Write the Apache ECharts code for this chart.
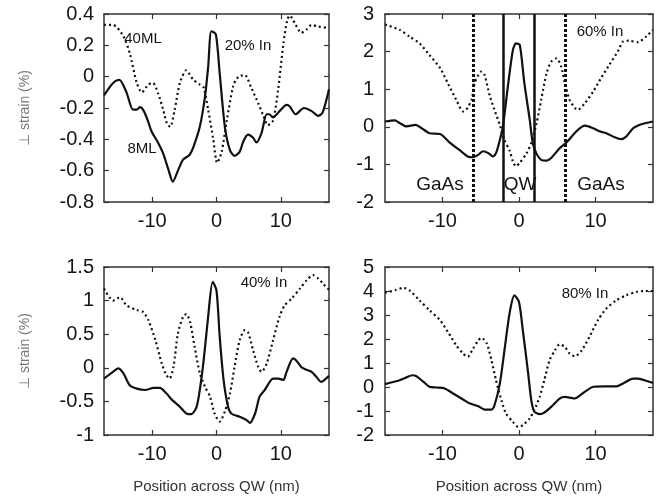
<!DOCTYPE html>
<html>
<head>
<meta charset="utf-8">
<script src="https://cdn.jsdelivr.net/npm/echarts@6/dist/echarts.min.js"></script>
<style>
html, body { margin: 0; padding: 0; background: #fff; }
#chart { width: 665px; height: 498px; }
</style>
</head>
<body>
<div id="chart"></div>
<script>
// perpendicular strain across the QW, [position nm, strain %]
const xTicks = [-10, 0, 10];
const xLimit = 17.5;

// 20% In : 8ML (solid) / 40ML (dotted)
const in20Solid = [[-17.5,-0.12],[-16.5,-0.06],[-15.8,-0.03],[-15.1,-0.02],[-14.0,-0.10],[-13.0,-0.21],[-12.4,-0.21],[-11.9,-0.195],[-11.3,-0.22],[-10.6,-0.29],[-10.1,-0.35],[-9.1,-0.42],[-8.3,-0.49],[-7.5,-0.59],[-6.8,-0.67],[-5.9,-0.59],[-5.2,-0.53],[-4.2,-0.50],[-3.6,-0.45],[-2.6,-0.32],[-1.8,-0.13],[-1.3,0.06],[-0.8,0.29],[-0.1,0.27],[0.5,0.02],[1.3,-0.32],[2.1,-0.47],[2.8,-0.505],[3.6,-0.48],[4.2,-0.41],[4.9,-0.37],[5.7,-0.39],[6.2,-0.42],[7.0,-0.36],[7.8,-0.24],[8.2,-0.24],[8.8,-0.26],[9.6,-0.23],[10.9,-0.18],[11.4,-0.19],[12.3,-0.24],[13.6,-0.20],[14.8,-0.22],[15.8,-0.25],[16.5,-0.23],[17.5,-0.08]];
const in20Dotted = [[-17.5,0.33],[-16.1,0.33],[-14.5,0.26],[-13.5,0.15],[-12.4,-0.04],[-11.6,-0.10],[-10.6,-0.05],[-9.9,-0.04],[-9.1,-0.105],[-8.3,-0.21],[-7.7,-0.30],[-7.2,-0.32],[-6.5,-0.21],[-5.7,-0.04],[-4.7,0.04],[-3.6,-0.02],[-2.6,-0.05],[-2.0,-0.07],[-1.3,-0.21],[-0.5,-0.40],[0.1,-0.55],[0.8,-0.48],[1.6,-0.28],[2.6,-0.06],[3.4,0.0],[4.4,0.01],[5.4,-0.07],[6.5,-0.17],[7.3,-0.25],[8.0,-0.31],[8.8,-0.28],[9.6,-0.08],[10.4,0.21],[11.0,0.36],[11.4,0.39],[12.2,0.34],[13.2,0.28],[14.0,0.30],[14.8,0.33],[15.8,0.32],[17.5,0.31]];

// 60% In
const in60Solid = [[-17.5,0.14],[-16.2,0.17],[-15.6,0.10],[-14.7,0.01],[-13.5,0.05],[-12.7,-0.04],[-11.7,-0.17],[-10.3,-0.19],[-9.0,-0.43],[-7.7,-0.63],[-6.7,-0.79],[-6.0,-0.81],[-5.3,-0.74],[-4.7,-0.65],[-4.0,-0.70],[-3.4,-0.79],[-3.0,-0.70],[-2.5,-0.35],[-2.1,0.01],[-1.4,1.16],[-0.8,2.04],[-0.4,2.22],[0.1,2.18],[0.7,1.16],[1.4,0.19],[1.8,-0.43],[2.3,-0.72],[2.9,-0.88],[3.6,-0.90],[4.2,-0.83],[5.3,-0.57],[6.2,-0.42],[7.5,-0.12],[8.6,0.03],[9.7,-0.04],[10.5,-0.12],[11.4,-0.17],[12.5,-0.28],[13.3,-0.33],[14.0,-0.26],[14.9,-0.04],[15.7,0.05],[16.6,0.10],[17.5,0.14]];
const in60Dotted = [[-17.5,2.72],[-15.6,2.58],[-14.3,2.40],[-13.0,2.22],[-11.7,1.91],[-10.3,1.56],[-9.3,1.16],[-8.2,0.72],[-7.3,0.41],[-6.9,0.45],[-6.2,0.72],[-5.8,1.16],[-5.3,1.38],[-4.9,1.47],[-4.5,1.38],[-3.8,0.81],[-3.2,0.45],[-2.5,0.05],[-1.9,-0.35],[-1.2,-0.65],[-0.8,-0.92],[-0.4,-1.05],[0.1,-0.96],[1.0,-0.70],[1.6,-0.43],[2.3,0.10],[2.9,0.72],[3.6,1.42],[4.2,1.73],[4.9,1.82],[5.5,1.60],[6.0,1.16],[6.6,0.72],[7.3,0.50],[7.7,0.45],[8.6,0.63],[9.7,0.94],[10.7,1.29],[11.8,1.65],[12.9,2.0],[13.6,2.27],[14.4,2.29],[15.5,2.25],[16.6,2.40],[17.5,2.58]];
// layer boundaries drawn in the 60% panel
const qwEdges = [-2, 2];
const gaasEdges = [-6, 6];

// 40% In
const in40Solid = [[-17.5,-0.16],[-16.1,-0.06],[-15.3,-0.01],[-14.5,-0.08],[-13.5,-0.26],[-12.4,-0.31],[-11.1,-0.33],[-9.8,-0.30],[-8.8,-0.30],[-7.8,-0.38],[-7.0,-0.47],[-5.7,-0.58],[-4.7,-0.68],[-3.9,-0.69],[-3.1,-0.58],[-2.6,-0.33],[-2.0,0.11],[-1.3,0.76],[-0.6,1.28],[0.0,1.15],[0.5,0.46],[1.1,-0.18],[1.8,-0.58],[2.3,-0.68],[3.6,-0.73],[4.7,-0.78],[5.2,-0.82],[6.0,-0.68],[6.7,-0.43],[7.5,-0.33],[8.8,-0.16],[9.6,-0.16],[10.4,-0.18],[10.9,-0.06],[11.9,0.14],[12.4,0.11],[13.2,0.01],[14.0,-0.03],[14.8,-0.06],[15.5,-0.13],[16.3,-0.21],[16.8,-0.18],[17.5,-0.12]];
const in40Dotted = [[-17.5,1.18],[-16.1,1.0],[-15.0,1.05],[-14.0,0.93],[-12.4,0.86],[-11.4,0.83],[-10.6,0.71],[-9.5,0.41],[-8.5,0.06],[-7.8,-0.11],[-7.3,-0.16],[-6.7,0.01],[-6.0,0.51],[-5.2,0.76],[-4.7,0.80],[-4.1,0.68],[-3.4,0.31],[-2.6,-0.08],[-1.8,-0.28],[-1.0,-0.43],[-0.3,-0.68],[0.5,-0.80],[1.3,-0.65],[2.1,-0.38],[2.8,0.01],[3.6,0.41],[4.4,0.56],[4.9,0.53],[5.7,0.26],[6.5,0.01],[7.0,-0.06],[7.8,0.06],[8.8,0.41],[9.8,0.76],[10.6,0.93],[11.7,1.03],[13.0,1.18],[14.0,1.30],[15.0,1.38],[15.8,1.33],[16.6,1.25],[17.5,1.16]];

// 80% In
const in80Solid = [[-17.5,0.12],[-15.6,0.28],[-14.7,0.40],[-13.9,0.49],[-13.4,0.45],[-12.5,0.22],[-11.7,0.01],[-10.8,-0.02],[-9.7,-0.06],[-8.6,-0.27],[-7.3,-0.52],[-6.4,-0.69],[-5.3,-0.80],[-4.5,-0.94],[-3.6,-0.94],[-3.2,-0.76],[-2.5,0.15],[-1.9,1.53],[-1.2,3.13],[-0.6,3.82],[0.0,3.54],[0.5,2.36],[1.2,0.56],[1.6,-0.55],[2.0,-1.03],[2.7,-1.13],[3.3,-1.07],[4.2,-0.83],[5.3,-0.48],[6.0,-0.41],[6.6,-0.44],[7.3,-0.48],[8.3,-0.27],[9.7,0.01],[11.0,0.03],[12.7,0.03],[13.6,0.15],[14.9,0.35],[15.5,0.35],[16.4,0.28],[17.5,0.17]];
const in80Dotted = [[-17.5,3.93],[-16.2,4.03],[-15.1,4.13],[-14.3,4.03],[-13.0,3.61],[-11.7,3.20],[-10.3,2.78],[-9.3,2.30],[-8.2,1.74],[-7.3,1.39],[-6.7,1.26],[-6.0,1.60],[-5.3,1.95],[-4.9,2.05],[-4.2,1.81],[-3.6,1.12],[-3.0,0.28],[-2.3,-0.55],[-1.7,-1.10],[-0.8,-1.45],[-0.1,-1.66],[0.5,-1.59],[1.4,-1.31],[2.0,-0.96],[2.7,-0.41],[3.3,0.28],[4.0,1.12],[4.7,1.53],[5.3,1.78],[6.0,1.67],[6.6,1.39],[7.3,1.28],[8.2,1.53],[9.2,2.09],[10.3,2.78],[11.4,3.27],[12.7,3.61],[14.0,3.82],[15.3,3.96],[16.4,4.00],[17.5,4.00]];

// y ranges [min, max, step]
const in20Range = [-0.8, 0.4, 0.2];
const in60Range = [-2, 3, 1];
const in40Range = [-1, 1.5, 0.5];
const in80Range = [-2, 5, 1];

const FONT = "'Liberation Sans', Arial, sans-serif";
const INK = '#151515';

const panels = [
  { box: { left: 104, top: 14, width: 225, height: 188 }, range: in20Range, solid: in20Solid, dotted: in20Dotted, yName: true, xName: false },
  { box: { left: 385, top: 14, width: 268, height: 188 }, range: in60Range, solid: in60Solid, dotted: in60Dotted, yName: false, xName: false, edges: true },
  { box: { left: 104, top: 267, width: 225, height: 168 }, range: in40Range, solid: in40Solid, dotted: in40Dotted, yName: true, xName: true },
  { box: { left: 385, top: 267, width: 268, height: 168 }, range: in80Range, solid: in80Solid, dotted: in80Dotted, yName: false, xName: true }
];

const grid = [], xAxis = [], yAxis = [], series = [];

panels.forEach(function (p, i) {
  grid.push(Object.assign({ containLabel: false }, p.box));
  const frame = { show: true, onZero: false, lineStyle: { color: '#333', width: 1.5 } };
  const tick = { show: true, inside: true, length: 5, lineStyle: { color: '#333', width: 1.2 } };
  // bottom + mirrored top axis
  xAxis.push({
    type: 'value', gridIndex: i, min: -xLimit, max: xLimit, position: 'bottom',
    axisLine: frame,
    axisTick: Object.assign({ customValues: xTicks }, tick),
    axisLabel: { customValues: xTicks, margin: 9, fontSize: 20, color: INK, fontFamily: FONT },
    splitLine: { show: false },
    name: p.xName ? 'Position across QW (nm)' : '',
    nameLocation: 'middle', nameGap: 44,
    nameTextStyle: { fontSize: 15, color: '#333', fontFamily: FONT }
  });
  xAxis.push({
    type: 'value', gridIndex: i, min: -xLimit, max: xLimit, position: 'top',
    axisLine: frame,
    axisTick: Object.assign({ customValues: xTicks }, tick),
    axisLabel: { show: false }, splitLine: { show: false }
  });
  yAxis.push({
    type: 'value', gridIndex: i, min: p.range[0], max: p.range[1], interval: p.range[2], position: 'left',
    axisLine: frame,
    axisTick: tick,
    axisLabel: { margin: i % 2 ? 11 : 10, fontSize: 20, color: INK, fontFamily: FONT },
    splitLine: { show: false },
    name: p.yName ? '\u22a5 strain (%)' : '',
    nameLocation: 'middle', nameGap: 72, nameRotate: 90,
    nameTextStyle: { fontSize: 14, color: '#777', fontFamily: FONT }
  });
  yAxis.push({
    type: 'value', gridIndex: i, min: p.range[0], max: p.range[1], interval: p.range[2], position: 'right',
    axisLine: frame,
    axisTick: tick,
    axisLabel: { show: false }, splitLine: { show: false }
  });

  const solid = {
    type: 'line', xAxisIndex: 2 * i, yAxisIndex: 2 * i, data: p.solid,
    showSymbol: false, smooth: 0.25, silent: true,
    lineStyle: { color: '#111', width: 2.2 }, z: 3
  };
  if (p.edges) {
    solid.markLine = {
      symbol: 'none', silent: true, label: { show: false },
      data: qwEdges.map(function (v) { return { xAxis: v, lineStyle: { type: 'solid', width: 2.5, color: '#111' } }; })
        .concat(gaasEdges.map(function (v) { return { xAxis: v, lineStyle: { type: [3, 2], width: 3, color: '#111' } }; }))
    };
  }
  series.push(solid);
  series.push({
    type: 'line', xAxisIndex: 2 * i, yAxisIndex: 2 * i, data: p.dotted,
    showSymbol: false, smooth: 0.25, silent: true,
    lineStyle: { color: '#111', width: 2.2, type: [2, 3] }, z: 2
  });
});

function note(text, x, y, size) {
  return {
    type: 'text', x: x, y: y, silent: true,
    style: { text: text, fill: INK, fontSize: size || 15, fontFamily: FONT, align: 'center', verticalAlign: 'middle' }
  };
}

const chart = echarts.init(document.getElementById('chart'), null, { renderer: 'canvas' });
chart.setOption({
  animation: false,
  backgroundColor: '#fff',
  grid: grid, xAxis: xAxis, yAxis: yAxis, series: series,
  graphic: [
    note('40ML', 143, 39),
    note('20% In', 248, 46),
    note('8ML', 142, 149),
    note('60% In', 600, 32),
    note('GaAs', 440, 185, 19),
    note('QW', 520, 185, 19),
    note('GaAs', 601, 185, 19),
    note('40% In', 264, 283),
    note('80% In', 585, 294)
  ]
});
</script>
</body>
</html>
